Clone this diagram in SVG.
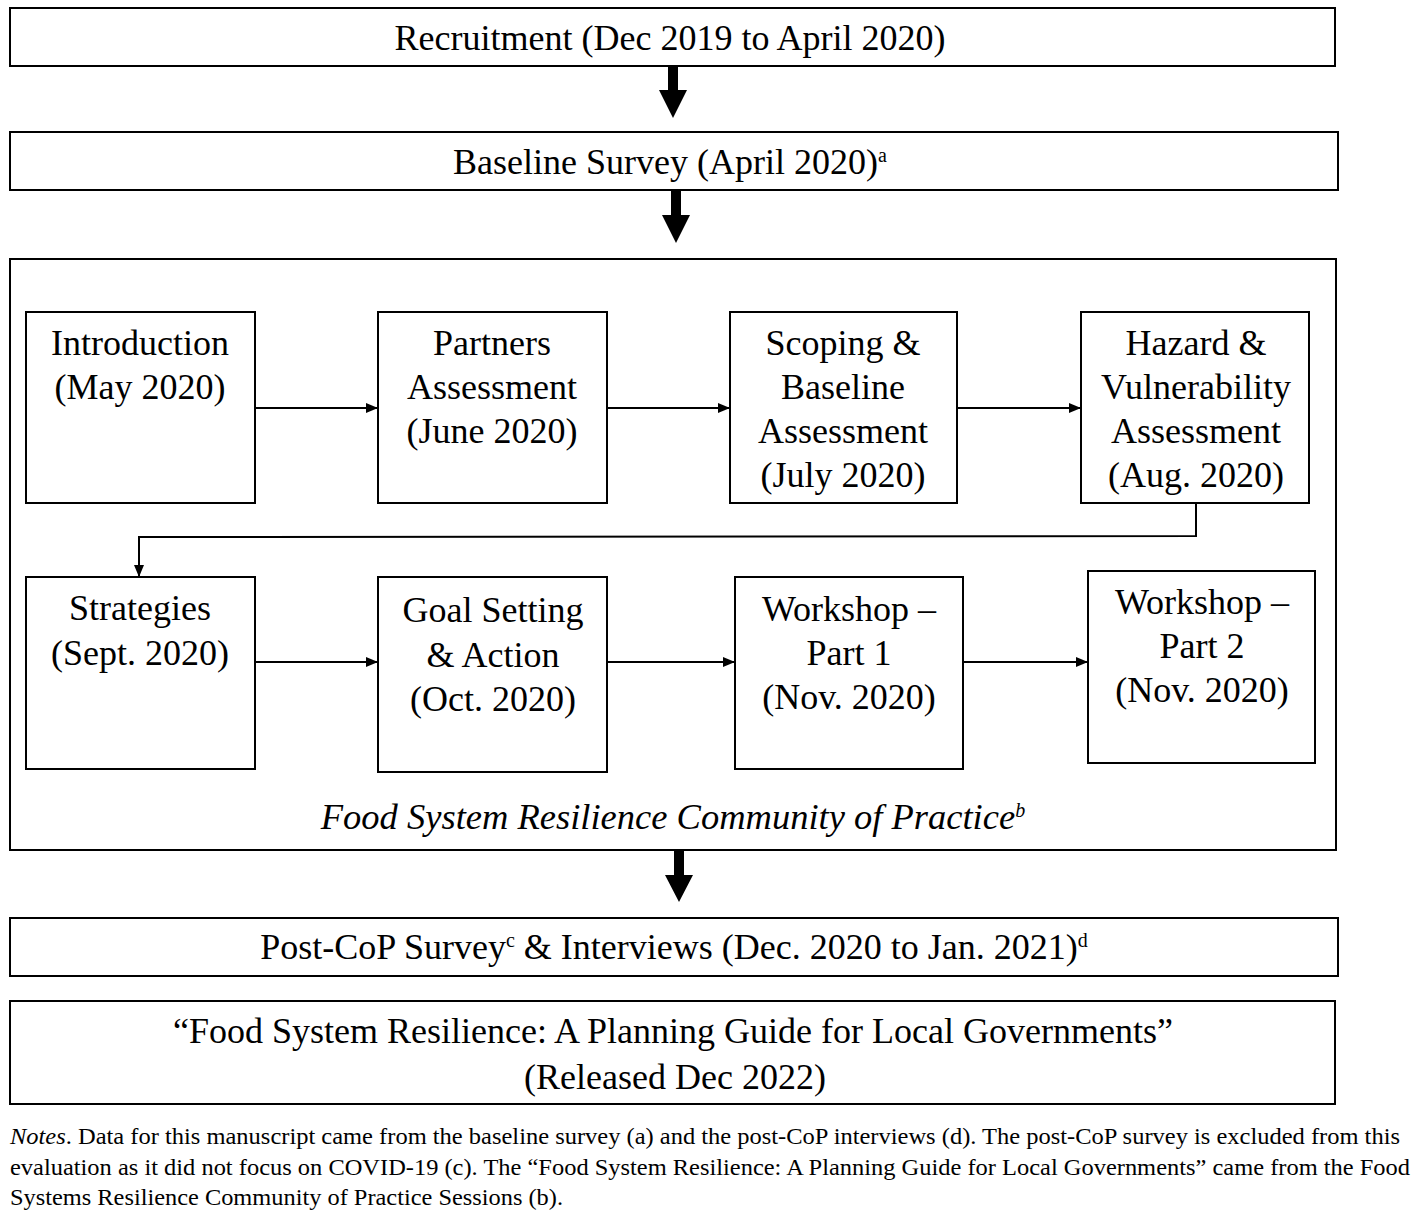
<svg xmlns="http://www.w3.org/2000/svg" width="1418" height="1219" viewBox="0 0 1418 1219">
<defs>
<style>
.box{fill:#fff;stroke:#000;stroke-width:2}
.t{font-family:"Liberation Serif","Times New Roman",serif;font-size:36px;fill:#000;text-anchor:middle}
.sup{font-size:20px}
.n{font-family:"Liberation Serif","Times New Roman",serif;font-size:23px;fill:#000}
.c{fill:none;stroke:#000;stroke-width:2}
.big{fill:#000;stroke:none}
</style>
<marker id="ah" viewBox="0 0 12 10" refX="12" refY="5" markerWidth="12" markerHeight="10" markerUnits="userSpaceOnUse" orient="auto">
<path d="M0,0 L12,5 L0,10 Z" fill="#000"/>
</marker>
</defs>
<rect width="1418" height="1219" fill="#fff"/>

<g id="recruitment">
<rect class="box" x="10" y="8" width="1325" height="58"/>
<text class="t" x="670" y="50">Recruitment (Dec 2019 to April 2020)</text>
</g>
<g id="baseline">
<rect class="box" x="10" y="132" width="1328" height="58"/>
<text class="t" x="453" y="174" style="text-anchor:start">Baseline Survey (April 2020)<tspan class="sup" dy="-12">a</tspan></text>
</g>
<g id="cop">
<rect class="box" x="10" y="259" width="1326" height="591"/>
<text class="t" x="673" y="829" font-style="italic" style="font-size:36.5px">Food System Resilience Community of Practice<tspan class="sup" dy="-12">b</tspan></text>
</g>
<g id="introduction">
<rect class="box" x="26" y="312" width="229" height="191"/>
<text class="t" x="140" y="355">Introduction</text>
<text class="t" x="140" y="399">(May 2020)</text>
</g>
<g id="partners">
<rect class="box" x="378" y="312" width="229" height="191"/>
<text class="t" x="492" y="355">Partners</text>
<text class="t" x="492" y="399">Assessment</text>
<text class="t" x="492" y="443">(June 2020)</text>
</g>
<g id="scoping">
<rect class="box" x="730" y="312" width="227" height="191"/>
<text class="t" x="843" y="355">Scoping &amp;</text>
<text class="t" x="843" y="399">Baseline</text>
<text class="t" x="843" y="443">Assessment</text>
<text class="t" x="843" y="487">(July 2020)</text>
</g>
<g id="hazard">
<rect class="box" x="1081" y="312" width="228" height="191"/>
<text class="t" x="1196" y="355">Hazard &amp;</text>
<text class="t" x="1196" y="399">Vulnerability</text>
<text class="t" x="1196" y="443">Assessment</text>
<text class="t" x="1196" y="487">(Aug. 2020)</text>
</g>
<g id="strategies">
<rect class="box" x="26" y="577" width="229" height="192"/>
<text class="t" x="140" y="620">Strategies</text>
<text class="t" x="140" y="665">(Sept. 2020)</text>
</g>
<g id="goal">
<rect class="box" x="378" y="577" width="229" height="195"/>
<text class="t" x="493" y="622">Goal Setting</text>
<text class="t" x="493" y="667">&amp; Action</text>
<text class="t" x="493" y="711">(Oct. 2020)</text>
</g>
<g id="workshop1">
<rect class="box" x="735" y="577" width="228" height="192"/>
<text class="t" x="849" y="621">Workshop –</text>
<text class="t" x="849" y="665">Part 1</text>
<text class="t" x="849" y="709">(Nov. 2020)</text>
</g>
<g id="workshop2">
<rect class="box" x="1088" y="571" width="227" height="192"/>
<text class="t" x="1202" y="614">Workshop –</text>
<text class="t" x="1202" y="658">Part 2</text>
<text class="t" x="1202" y="702">(Nov. 2020)</text>
</g>
<g id="postcop">
<rect class="box" x="10" y="918" width="1328" height="58"/>
<text class="t" x="674" y="959">Post-CoP Survey<tspan class="sup" dy="-12">c</tspan><tspan dy="12"> &amp; Interviews (Dec. 2020 to Jan. 2021)</tspan><tspan class="sup" dy="-12">d</tspan></text>
</g>
<g id="guide">
<rect class="box" x="10" y="1001" width="1325" height="103"/>
<text class="t" x="673" y="1043">“Food System Resilience: A Planning Guide for Local Governments”</text>
<text class="t" x="675" y="1089">(Released Dec 2022)</text>
</g>

<g id="connectors">
<path class="big" d="M668,66 H678 V90 H687 L673,118 L659,90 H668 Z"/>
<path class="big" d="M671,190 H681 V215 H690 L676,243 L662,215 H671 Z"/>
<path class="big" d="M674,850 H684 V875 H693 L679,902 L665,875 H674 Z"/>
<line class="c" x1="255" y1="408" x2="378" y2="408" marker-end="url(#ah)"/>
<line class="c" x1="607" y1="408" x2="730" y2="408" marker-end="url(#ah)"/>
<line class="c" x1="957" y1="408" x2="1081" y2="408" marker-end="url(#ah)"/>
<polyline class="c" points="1196,503 1196,536 139,537 139,577" marker-end="url(#ah)"/>
<line class="c" x1="255" y1="662" x2="378" y2="662" marker-end="url(#ah)"/>
<line class="c" x1="607" y1="662" x2="735" y2="662" marker-end="url(#ah)"/>
<line class="c" x1="963" y1="662" x2="1088" y2="662" marker-end="url(#ah)"/>
</g>

<g id="notes">
<text class="n" x="10" y="1144" textLength="1390" lengthAdjust="spacingAndGlyphs"><tspan font-style="italic">Notes</tspan>. Data for this manuscript came from the baseline survey (a) and the post-CoP interviews (d). The post-CoP survey is excluded from this</text>
<text class="n" x="10" y="1175" textLength="1400" lengthAdjust="spacingAndGlyphs">evaluation as it did not focus on COVID-19 (c). The “Food System Resilience: A Planning Guide for Local Governments” came from the Food</text>
<text class="n" x="10" y="1205" textLength="553" lengthAdjust="spacingAndGlyphs">Systems Resilience Community of Practice Sessions (b).</text>
</g>
</svg>
